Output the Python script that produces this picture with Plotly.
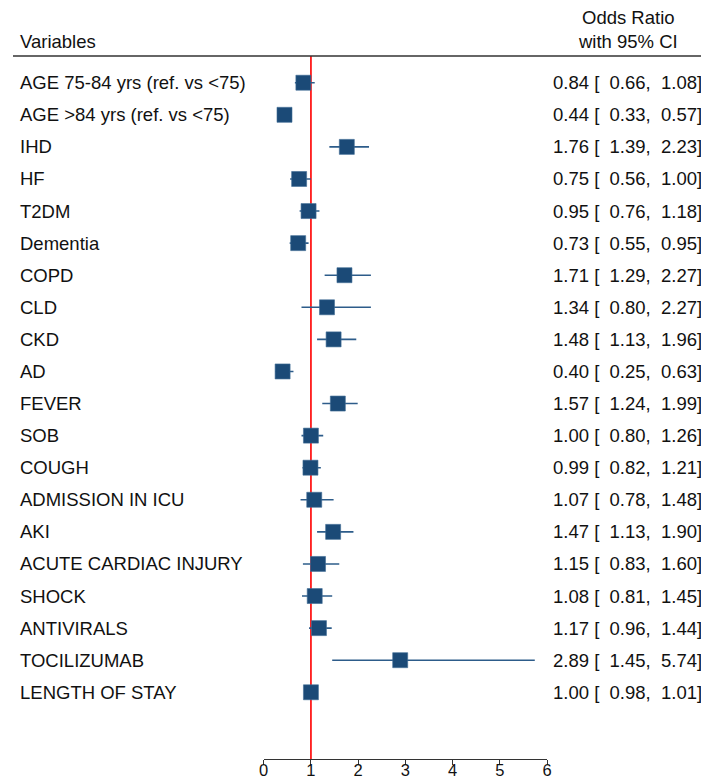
import plotly.graph_objects as go

variables = ["AGE 75-84 yrs (ref. vs <75)", "AGE >84 yrs (ref. vs <75)", "IHD", "HF", "T2DM",
             "Dementia", "COPD", "CLD", "CKD", "AD", "FEVER", "SOB", "COUGH",
             "ADMISSION IN ICU", "AKI", "ACUTE CARDIAC INJURY", "SHOCK", "ANTIVIRALS",
             "TOCILIZUMAB", "LENGTH OF STAY"]
odds_ratio = [0.84, 0.44, 1.76, 0.75, 0.95, 0.73, 1.71, 1.34, 1.48, 0.40, 1.57, 1.00, 0.99,
              1.07, 1.47, 1.15, 1.08, 1.17, 2.89, 1.00]
ci_low = [0.66, 0.33, 1.39, 0.56, 0.76, 0.55, 1.29, 0.80, 1.13, 0.25, 1.24, 0.80, 0.82,
          0.78, 1.13, 0.83, 0.81, 0.96, 1.45, 0.98]
ci_high = [1.08, 0.57, 2.23, 1.00, 1.18, 0.95, 2.27, 2.27, 1.96, 0.63, 1.99, 1.26, 1.21,
           1.48, 1.90, 1.60, 1.45, 1.44, 5.74, 1.01]
x_ticks = [0, 1, 2, 3, 4, 5, 6]

FONT = "Liberation Sans, Arial, sans-serif"
FS = 18.5
W, H = 709, 779
TOP, BOTTOM = 48.3, 750.7
NAVY = "#1b4a77"

rows = list(range(len(variables)))

fig = go.Figure()
fig.add_trace(go.Scatter(
    x=odds_ratio, y=rows, mode="markers",
    marker=dict(symbol="square", size=15, color=NAVY,
                line=dict(color="#3f6c96", width=0.6)),
    error_x=dict(type="data", symmetric=False,
                 array=[h - o for h, o in zip(ci_high, odds_ratio)],
                 arrayminus=[o - l for o, l in zip(odds_ratio, ci_low)],
                 width=0, color="#2d5c8a", thickness=1.6),
    showlegend=False, cliponaxis=False, hoverinfo="skip",
))

annotations = []
nbsp = "\u00a0"
for i, (v, o, l, h) in enumerate(zip(variables, odds_ratio, ci_low, ci_high)):
    annotations.append(dict(x=5 / W, xref="paper", y=i, yref="y", text=v,
                            xanchor="left", yanchor="middle", showarrow=False,
                            font=dict(family=FONT, size=FS, color="#111")))
    txt = f"{o:.2f} [{nbsp}{l:5.2f},{nbsp}{h:5.2f}]".replace(" ", nbsp)
    annotations.append(dict(x=701 / W, xref="paper", y=i, yref="y", text=txt,
                            xanchor="right", yanchor="middle", showarrow=False,
                            font=dict(family=FONT, size=FS, color="#111")))

def py(pix):
    return (BOTTOM - pix) / (BOTTOM - TOP)

annotations.append(dict(x=5 / W, xref="paper", y=py(34), yref="paper", text="Variables",
                        xanchor="left", yanchor="middle", showarrow=False,
                        font=dict(family=FONT, size=FS, color="#111")))
annotations.append(dict(x=624 / W, xref="paper", y=py(10), yref="paper", text="Odds Ratio",
                        xanchor="center", yanchor="middle", showarrow=False,
                        font=dict(family=FONT, size=FS, color="#111")))
annotations.append(dict(x=624 / W, xref="paper", y=py(34), yref="paper", text="with 95% CI",
                        xanchor="center", yanchor="middle", showarrow=False,
                        font=dict(family=FONT, size=FS, color="#111")))

shapes = [
    dict(type="line", xref="x", yref="paper", x0=1, x1=1, y0=0, y1=1,
         line=dict(color="#ff1a1a", width=1.8), layer="below"),
    dict(type="line", xref="paper", yref="paper", x0=0, x1=705 / W, y0=1, y1=1,
         line=dict(color="#333333", width=1.5)),
]

fig.update_layout(
    width=W, height=H,
    margin=dict(l=0, r=0, t=TOP, b=H - BOTTOM, pad=0),
    paper_bgcolor="white", plot_bgcolor="white",
    font=dict(family=FONT, size=FS, color="#111"),
    xaxis=dict(domain=[254.3 / W, 541.7 / W], range=[0, 6], tickvals=x_ticks,
               ticktext=[str(t) for t in x_ticks],
               showline=True, linecolor="#333", linewidth=1.2,
               ticks="outside", ticklen=5, tickcolor="#333", tickwidth=1.2,
               ticklabelstandoff=-9,
               showgrid=False, zeroline=False,
               tickfont=dict(family=FONT, size=16.5, color="#111")),
    yaxis=dict(range=[21.08, -0.833], visible=False, showgrid=False, zeroline=False),
    annotations=annotations, shapes=shapes,
)

fig.write_html("out.html")
